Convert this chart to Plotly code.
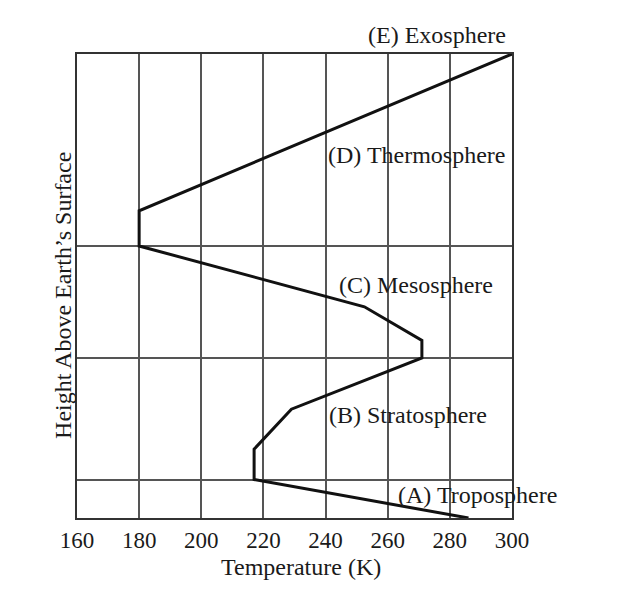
import plotly.graph_objects as go

temps = [286, 217, 217, 229, 271, 271, 252.5, 180, 180, 300]
heights = [0, 12, 21.5, 34, 50, 55.5, 66, 85, 96, 145]

x_ticks = [160, 180, 200, 220, 240, 260, 280, 300]
layer_bounds = [12, 50, 85]

labels = ["(D) Thermosphere", "(C) Mesosphere", "(B) Stratosphere", "(A) Troposphere"]
label_x = [269.3, 269.2, 266.4, 288.9]
label_y = [113.4, 72.8, 32.2, 7.2]
top_label = "(E) Exosphere"
top_label_x = 275.9

FONT = "Liberation Serif, Times New Roman, serif"
TXT = "#1a1a1a"
FS = 24

fig = go.Figure()
fig.add_trace(go.Scatter(x=temps, y=heights, mode="lines",
                         line=dict(color="#111111", width=3),
                         hoverinfo="skip", showlegend=False, cliponaxis=False))

for t, xx, yy in zip(labels, label_x, label_y):
    fig.add_annotation(x=xx, y=yy, xref="x", yref="y", text=t, showarrow=False,
                       font=dict(family=FONT, size=FS, color=TXT),
                       xanchor="center", yanchor="middle")

fig.add_annotation(x=top_label_x, y=1, xref="x", yref="paper", text=top_label, showarrow=False,
                   font=dict(family=FONT, size=FS, color=TXT),
                   xanchor="center", yanchor="middle", yshift=19)

fig.add_annotation(x=0, y=69.4, xref="paper", yref="y", text="Height Above Earth\u2019s Surface",
                   textangle=-90, showarrow=False, xanchor="center", yanchor="middle", xshift=-14,
                   font=dict(family=FONT, size=FS, color=TXT))
fig.add_annotation(x=232.2, y=0, xref="x", yref="paper", text="Temperature (K)",
                   showarrow=False, xanchor="center", yanchor="middle", yshift=-49,
                   font=dict(family=FONT, size=FS, color=TXT))

fig.update_xaxes(range=[160, 300], tickvals=x_ticks, ticktext=[str(v) for v in x_ticks],
                 showgrid=True, gridcolor="#555555", gridwidth=2,
                 showline=True, linecolor="#333333", linewidth=2, mirror=True,
                 ticks="", zeroline=False,
                 tickfont=dict(family=FONT, size=23, color=TXT))
fig.update_yaxes(range=[0, 145], tickvals=layer_bounds, showticklabels=False,
                 showgrid=True, gridcolor="#555555", gridwidth=2,
                 showline=True, linecolor="#333333", linewidth=2, mirror=True,
                 ticks="", zeroline=False)

fig.update_layout(width=636, height=616, margin=dict(l=77, r=124, t=54, b=98),
                  plot_bgcolor="white", paper_bgcolor="white")

fig.write_html("out.html")
